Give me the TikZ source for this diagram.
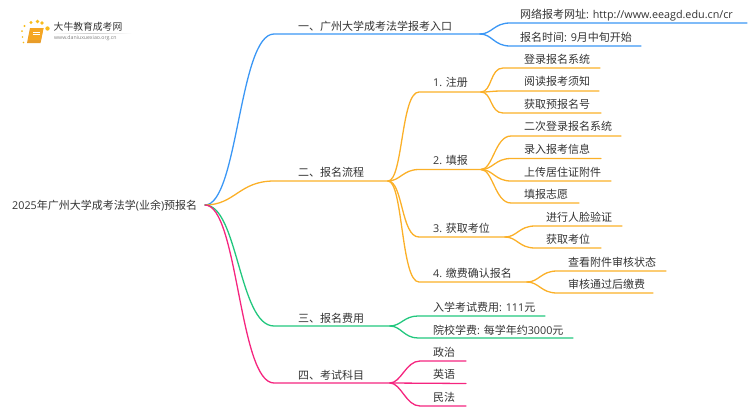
\documentclass[tikz,border=0pt]{standalone}
\usepackage{fontspec}
\setmainfont{Noto Sans CJK SC}
\newfontfamily\lat[Scale=0.98]{Open Sans}
\usetikzlibrary{calc}
\definecolor{cblue}{HTML}{3B97F5}
\definecolor{corange}{HTML}{FBB028}
\definecolor{cgreen}{HTML}{22C77E}
\definecolor{cpink}{HTML}{F5257F}
\definecolor{ctext}{HTML}{333333}
\definecolor{cbook}{HTML}{F5A623}
\tikzset{
  x=1pt,y=-1pt,
  lbl/.style={inner sep=0pt,text=ctext,font=\fontsize{11}{13}\selectfont,anchor=base west},
  link/.style={line width=1.3pt,line cap=round},
  logotitle/.style={inner sep=0pt,text=ctext,font=\fontsize{9.8}{11}\selectfont,anchor=west},
  logourl/.style={inner sep=0pt,text=gray,font=\fontsize{5.3}{6}\selectfont,anchor=west},
}
% \lnk{colour}{from}{corner}{end}{ctrl out}{ctrl in}
\newcommand{\lnk}[6]{\draw[link,#1] (#2) .. controls ($(#2)+(#5,0)$) and ($(#3)-(#6,0)$) .. (#3) -- (#4);}
\begin{document}
\begin{tikzpicture}
\useasboundingbox (0,0) rectangle (750,410);
% logo
\fill[cbook!75!brown] (30,28) -- (43.5,28) -- (40.5,43) -- (27,43) -- cycle;
\fill[cbook] (30.5,28) -- (43.5,28) -- (41,40) -- (28,40) -- cycle;
\draw[white,line width=.5pt] (33,32) -- (40,32) (32.5,34.5) -- (39.5,34.5);
\foreach \px/\py/\pr in {24.5/26/1.2,31/22.5/1.6,37.5/21.5/1.8,42/23/1.8,47.5/28.5/2.2,22/31/1,22.5/37/.8,23.5/42.5/.8}
  \fill[cbook!75!yellow] (\px,\py) circle[radius=\pr];
\node[logotitle] (logoa) at (53.5,27) {大牛教育成考网};
\node[logourl] (logob) at (54,38.5) {\lat www.daniuxuexiao.org.cn};
\shade[left color=white,right color=white,middle color=gray!40] (52,33) rectangle (132,33.6);
% junctions and ends
\coordinate (root) at (205,205);
\coordinate (a) at (274,34);   \coordinate (aj) at (480,34);
\coordinate (b) at (274,181);  \coordinate (bj) at (388,181);
\coordinate (c) at (274,326);  \coordinate (cj) at (390,326);
\coordinate (d) at (274,383);  \coordinate (dj) at (390,383);
\coordinate (b1) at (419,92);  \coordinate (b1j) at (481,92);
\coordinate (b2) at (419,169.5); \coordinate (b2j) at (481,169.5);
\coordinate (b3) at (419,237); \coordinate (b3j) at (505,237);
\coordinate (b4) at (419,282); \coordinate (b4j) at (527,282);
% texts
\node[lbl] (troot) at (12,209.5) {{\lat 2025}年广州大学成考法学{\lat (}业余{\lat )}预报名};
\node[lbl] (ta) at (298,30) {一、广州大学成考法学报考入口};
\node[lbl] (tb) at (298,176.5) {二、报名流程};
\node[lbl] (tc) at (298,322) {三、报名费用};
\node[lbl] (td) at (298,379) {四、考试科目};
\node[lbl] (ta1) at (520,18.5) {网络报考网址{\lat : http://www.eeagd.edu.cn/cr}};
\node[lbl] (ta2) at (520,41.5) {报名时间{\lat : 9}月中旬开始};
\node[lbl] (tb1) at (433,86.5) {{\lat 1. }注册};
\node[lbl] (tb2) at (433,164.5) {{\lat 2. }填报};
\node[lbl] (tb3) at (433,232) {{\lat 3. }获取考位};
\node[lbl] (tb4) at (433,277) {{\lat 4. }缴费确认报名};
\node[lbl] (l1) at (524,63) {登录报名系统};
\node[lbl] (l2) at (524,85.5) {阅读报考须知};
\node[lbl] (l3) at (524,108) {获取预报名号};
\node[lbl] (l4) at (524,130.5) {二次登录报名系统};
\node[lbl] (l5) at (524,153) {录入报考信息};
\node[lbl] (l6) at (524,176) {上传居住证附件};
\node[lbl] (l7) at (524,198) {填报志愿};
\node[lbl] (l8) at (546,221) {进行人脸验证};
\node[lbl] (l9) at (546,243) {获取考位};
\node[lbl] (l10) at (568,266) {查看附件审核状态};
\node[lbl] (l11) at (568,288) {审核通过后缴费};
\node[lbl] (c1) at (433,311) {入学考试费用{\lat : 111}元};
\node[lbl] (c2) at (433,334) {院校学费{\lat : }每学年约{\lat 3000}元};
\node[lbl] (d1) at (433,356) {政治};
\node[lbl] (d2) at (433,378.5) {英语};
\node[lbl] (d3) at (433,401) {民法};
% connectors
\lnk{cblue}{root}{a}{aj}{33}{35}
\lnk{corange}{root}{b}{bj}{30}{35}
\lnk{cgreen}{root}{c}{cj}{33}{35}
\lnk{cpink}{root}{d}{dj}{33}{35}
\lnk{cblue}{aj}{$(aj)+(30,-11)$}{747,23}{12}{16}
\lnk{cblue}{aj}{$(aj)+(30,12)$}{641,46}{12}{16}
\lnk{corange}{bj}{b1}{b1j}{15}{18}
\lnk{corange}{bj}{b2}{b2j}{12}{16}
\lnk{corange}{bj}{b3}{b3j}{15}{18}
\lnk{corange}{bj}{b4}{b4j}{15}{18}
\lnk{corange}{b1j}{503,68}{600,68}{11}{13}
\lnk{corange}{b1j}{503,91}{599,91}{11}{13}
\lnk{corange}{b1j}{503,113}{601,113}{11}{13}
\lnk{corange}{b2j}{511,136}{621,136}{12}{16}
\lnk{corange}{b2j}{511,158.5}{601,158.5}{12}{16}
\lnk{corange}{b2j}{511,181}{611,181}{12}{16}
\lnk{corange}{b2j}{511,203}{579,203}{12}{16}
\lnk{corange}{b3j}{535,226}{622,226}{12}{16}
\lnk{corange}{b3j}{535,248}{601,248}{12}{16}
\lnk{corange}{b4j}{557,271}{666,271}{12}{16}
\lnk{corange}{b4j}{557,293}{653,293}{12}{16}
\lnk{cgreen}{cj}{418,316}{545,316}{11}{14}
\lnk{cgreen}{cj}{418,338}{573,338}{11}{14}
\lnk{cpink}{dj}{420,361}{466,361}{11}{14}
\draw[link,cpink] (dj) -- (466,383.5);
\lnk{cpink}{dj}{420,406}{466,406}{11}{14}
\end{tikzpicture}
\end{document}
